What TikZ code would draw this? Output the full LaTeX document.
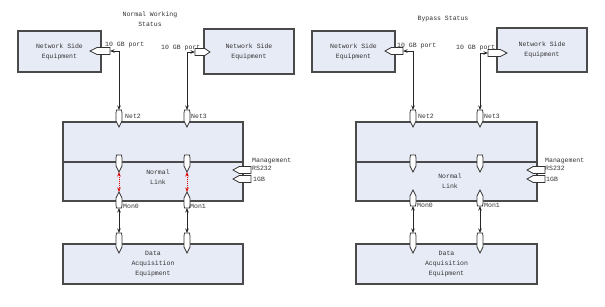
\documentclass[tikz,border=0pt]{standalone}
\usepackage{fontspec}
\newfontfamily\labfont{Liberation Mono}
\usetikzlibrary{arrows.meta}
\definecolor{boxfill}{HTML}{E7EBF6}
\definecolor{boxline}{HTML}{4A4A4A}
\definecolor{txt}{HTML}{333333}
\tikzset{
  lab/.style={font=\labfont\fontsize{6.5}{10}\selectfont, text=txt, inner sep=0pt, align=center},
  box/.style={draw=boxline, fill=boxfill, line width=1.1pt, inner sep=0pt, lab},
  portshape/.style={draw=black!80, fill=white, line width=0.8pt},
  conn/.style={draw=black!85, line width=0.8pt, {Stealth[length=4.5pt,width=3.5pt]}-{Stealth[length=4.5pt,width=3.5pt]}},
  redconn/.style={draw=red!85!black, line width=1pt, densely dotted, {Stealth[length=4.5pt,width=3.5pt]}-{Stealth[length=4.5pt,width=3.5pt]}}
}
% vertical port, flat top, pointed bottom
\newcommand\pdn[4]{%
  \draw[portshape] (#2-2.5,#3) -- (#2+2.5,#3) -- (#2+3,#3+3) -- (#2+3,#4-6) -- (#2,#4) -- (#2-3,#4-6) -- (#2-3,#3+3) -- cycle;
  \coordinate (#1-t) at (#2,#3); \coordinate (#1-b) at (#2,#4);}
% vertical port, pointed top, flat bottom
\newcommand\pup[4]{%
  \draw[portshape] (#2,#3) -- (#2+3,#3+6) -- (#2+3,#4-3) -- (#2+2.5,#4) -- (#2-2.5,#4) -- (#2-3,#4-3) -- (#2-3,#3+6) -- cycle;
  \coordinate (#1-t) at (#2,#3); \coordinate (#1-b) at (#2,#4);}
% horizontal port: name, tip x, flat end x, y
\newcommand\phz{}
\renewcommand\phz[4]{%
  \draw[portshape] (#2,#4) -- ({#2+0.35*(#3-#2)},#4-3.5) -- (#3,#4-3.5) -- (#3,#4+3.5) -- ({#2+0.35*(#3-#2)},#4+3.5) -- cycle;
  \coordinate (#1-e) at (#3,#4);}
\begin{document}
\begin{tikzpicture}[x=1pt,y=-1pt]
\useasboundingbox (0,0) rectangle (605,306);
\fill[white] (0,0) rectangle (605,306);

% ================= LEFT PANEL =================
\node[lab] (t1) at (150,19) {Normal Working\\Status};

\node[box, minimum width=83pt, minimum height=41pt] (nse1) at (59.5,51.5) {Network Side\\Equipment};
\node[box, minimum width=90pt, minimum height=45pt] (nse2) at (249,51.5) {Network Side\\Equipment};
\node[lab, anchor=west] (gb1) at (105,45) {10 GB port};
\node[lab, anchor=west] (gb2) at (161,48) {10 GB port};
\phz{pa}{90}{110}{51}
\phz{pb}{210}{195}{52}

\node[box, minimum width=180pt, minimum height=40pt] (up1) at (153,142) {};
\node[box, minimum width=180pt, minimum height=39pt] (lo1) at (153,181.5) {};
\node[lab] (nl1) at (158,177) {Normal\\Link};
\node[box, minimum width=180pt, minimum height=40pt] (da1) at (153,264) {Data\\Acquisition\\Equipment};

\pdn{n2}{119}{110}{127}
\pdn{n3}{187}{110}{127}
\pdn{d2}{119}{155}{172}
\pdn{d3}{187}{155}{172}
\pup{m0}{119}{192}{208}
\pup{m1}{187}{192}{208}
\pdn{q0}{119}{233}{253}
\pdn{q1}{187}{233}{253}

\node[lab, anchor=west] (l1) at (125,116) {Net2};
\node[lab, anchor=west] (l2) at (191,116) {Net3};
\node[lab, anchor=west] (l3) at (123,206) {Mon0};
\node[lab, anchor=west] (l4) at (190,206) {Mon1};

\draw[conn] (pa-e) -| (n2-t);
\draw[conn] (pb-e) -| (n3-t);
\draw[redconn] (d2-b) -- (m0-t);
\draw[redconn] (d3-b) -- (m1-t);
\draw[conn] (m0-b) -- (q0-t);
\draw[conn] (m1-b) -- (q1-t);

\phz{mg1}{233}{251}{170}
\phz{mg2}{233}{251}{179}
\node[lab, anchor=west] (mt1) at (252,161) {Management};
\node[lab, anchor=west] (mt2) at (252,168.5) {RS232};
\node[lab, anchor=west] (mt3) at (253,179) {1GB};

% ================= RIGHT PANEL =================
\node[lab] (t2) at (443,19) {Bypass Status};

\node[box, minimum width=83pt, minimum height=41pt] (nse3) at (353.5,51.5) {Network Side\\Equipment};
\node[box, minimum width=90pt, minimum height=44pt] (nse4) at (542,50) {Network Side\\Equipment};
\node[lab, anchor=west] (gb3) at (397,46) {10 GB port};
\node[lab, anchor=west] (gb4) at (456,48) {10 GB port};
\phz{pc}{385}{403}{51}
\phz{pd}{507}{488}{53}

\node[box, minimum width=181pt, minimum height=40pt] (up2) at (446.5,142) {};
\node[box, minimum width=181pt, minimum height=39pt] (lo2) at (446.5,181.5) {};
\node[lab] (nl2) at (450,181) {Normal\\Link};
\node[box, minimum width=181pt, minimum height=40pt] (da2) at (446.5,264) {Data\\Acquisition\\Equipment};

\pdn{r2}{413}{110}{127}
\pdn{r3}{480}{110}{127}
\pdn{e2}{413}{155}{172}
\pdn{e3}{480}{155}{172}
\pup{k0}{413}{190}{206}
\pup{k1}{480}{190}{206}
\pdn{s0}{413}{233}{253}
\pdn{s1}{480}{233}{253}

\node[lab, anchor=west] (l5) at (418,116) {Net2};
\node[lab, anchor=west] (l6) at (484,116) {Net3};
\node[lab, anchor=west] (l7) at (417,205) {Mon0};
\node[lab, anchor=west] (l8) at (484,205) {Mon1};

\draw[conn] (pc-e) -| (r2-t);
\draw[conn] (pd-e) -| (r3-t);
\draw[conn] (k0-b) -- (s0-t);
\draw[conn] (k1-b) -- (s1-t);

\phz{mg3}{527}{545}{170}
\phz{mg4}{527}{545}{179}
\node[lab, anchor=west] (mt4) at (545,161) {Management};
\node[lab, anchor=west] (mt5) at (545,168.5) {RS232};
\node[lab, anchor=west] (mt6) at (546,179) {1GB};
\end{tikzpicture}
\end{document}
